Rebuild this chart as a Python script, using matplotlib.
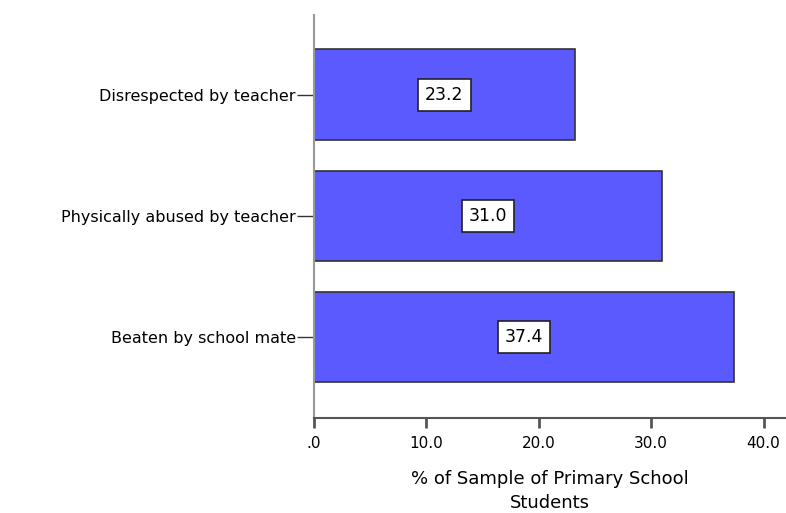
import matplotlib
matplotlib.use("Agg")
import matplotlib.pyplot as plt

categories = ["Disrespected by teacher", "Physically abused by teacher", "Beaten by school mate"]
values = [23.2, 31.0, 37.4]
xticks = [0, 10, 20, 30, 40]
xticklabels = [".0", "10.0", "20.0", "30.0", "40.0"]

fig = plt.figure(figsize=(7.86, 5.13), dpi=100)
ax = fig.add_axes([314/786, 1-418/513, 1-314/786, (418-15)/513])

ypos = list(range(len(categories)))
bars = ax.barh(ypos, values, height=0.75, color="#5a5aff", edgecolor="#333333", linewidth=1.2, zorder=2)
for y, v in zip(ypos, values):
    ax.text(v/2, y, f"{v:.1f}", ha="center", va="center", fontsize=12.5,
            bbox=dict(boxstyle="square,pad=0.4", facecolor="white", edgecolor="#222222", linewidth=1.2), zorder=3)

ax.set_ylim(2.67, -0.66)
ax.set_xlim(0, 42)
ax.set_yticks(ypos)
ax.set_yticklabels(categories, fontsize=11.5)
ax.set_xticks(xticks)
ax.set_xticklabels(xticklabels, fontsize=11)
ax.tick_params(axis="y", length=12, width=1, color="#333333", pad=1)
ax.tick_params(axis="x", length=7, width=2, color="#555555", direction="out", pad=6)
for s in ["top", "right"]:
    ax.spines[s].set_visible(False)
ax.spines["left"].set_color("#999999")
ax.spines["left"].set_linewidth(1.5)
ax.spines["bottom"].set_color("#555555")
ax.spines["bottom"].set_linewidth(1.5)
ax.set_xlabel("% of Sample of Primary School\nStudents", fontsize=13, labelpad=14, linespacing=1.4)

fig.savefig("out.png", dpi=100)
